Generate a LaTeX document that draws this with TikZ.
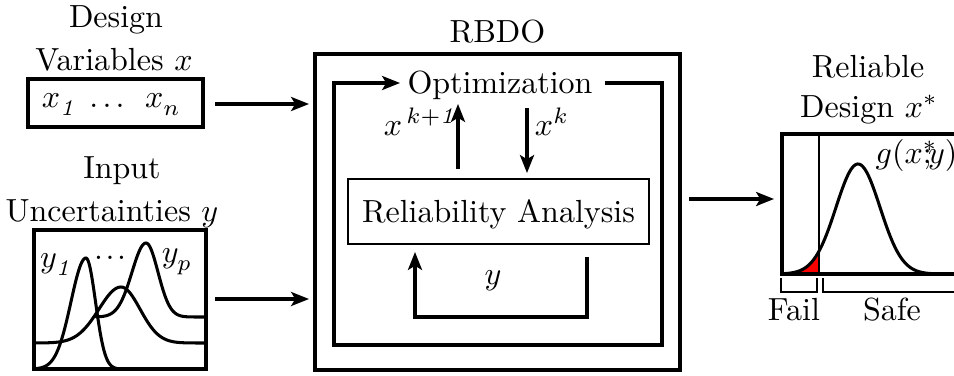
\documentclass[tikz,border=0pt]{standalone}
\usetikzlibrary{arrows.meta}
\newcommand\pxu{0.3125pt}
\tikzset{
  heavy/.style={line width=0.95pt},
  fine/.style={line width=0.4pt},
  thickbox/.style={draw, heavy, inner sep=0pt},
  thinbox/.style={draw, fine, inner sep=0pt},
  conn/.style={heavy, -{Stealth[length=5.6pt,width=4.4pt,inset=1.3pt]}},
  curve/.style={heavy, line join=round, line cap=round},
  lbl/.style={inner sep=0pt, anchor=base},
}
\begin{document}
\begin{tikzpicture}[x=\pxu, y=-\pxu]
\useasboundingbox (0,0) rectangle (954,375);

% ---------- design variables ----------
\node[lbl] (dvT1) at (116,28) {Design};
\node[lbl] (dvT2) at (114,70) {Variables $x$};
\node[thickbox, minimum width=175*\pxu, minimum height=48*\pxu] (dv) at (115.5,103) {};
\node[lbl] (x1) at (60,107) {$x_{\raisebox{-1pt}{$\scriptstyle\mathit{1}$}}$};
\node[lbl] (xd) at (107,107) {\makebox[11pt]{.\hfill.\hfill.}};
\node[lbl] (xn) at (163,107) {$x_{\raisebox{-1pt}{$\scriptstyle n$}}$};

% ---------- input uncertainties ----------
\node[lbl] (unT1) at (122,178) {Input};
\node[lbl] (unT2) at (112,221) {Uncertainties $y$};
\node[thickbox, minimum width=172*\pxu, minimum height=139*\pxu] (un) at (120,299.5) {};
\begin{scope}
  \clip (34,230) rectangle (206,369);
  % narrow density y_1
  \draw[curve] plot[domain=34:86, samples=50] (\x, {369-111*exp(-((\x-86)/15)*((\x-86)/15)/2)})
               -- plot[domain=86:135, samples=50] (\x, {369-111*exp(-((\x-86)/9.5)*((\x-86)/9.5)/2)});
  % wide density
  \draw[curve] plot[domain=34:121, samples=60] (\x, {343-56*exp(-((\x-121)/22)*((\x-121)/22)/2)})
               -- plot[domain=121:207, samples=60] (\x, {343-56*exp(-((\x-121)/19)*((\x-121)/19)/2)});
  % density y_p
  \draw[curve] plot[domain=96:146, samples=50] (\x, {317-74*exp(-((\x-146)/14)*((\x-146)/14)/2)})
               -- plot[domain=146:207, samples=50] (\x, {317-74*exp(-((\x-146)/12)*((\x-146)/12)/2)});
\end{scope}
\node[lbl] (y1) at (57,267) {$y_{\raisebox{-1pt}{$\scriptstyle\mathit{1}$}}$};
\node[lbl] (yd) at (110,259) {\makebox[10pt]{.\hfill.\hfill.}};
\node[lbl] (yp) at (177,262) {$y_{\raisebox{-1pt}{$\scriptstyle p$}}$};

% ---------- RBDO block ----------
\node[lbl] (rbdoT) at (497.5,42) {RBDO};
\node[thickbox, minimum width=365*\pxu, minimum height=316*\pxu] (rbdo) at (497.5,212) {};
\node[lbl, inner sep=2.2pt] (opt) at (500,93) {Optimization};
\node[thinbox, minimum width=301*\pxu, minimum height=65*\pxu] (ra) at (498.5,211.5) {};
\node[lbl] (raT) at (498.5,222) {Reliability Analysis};

% outer loop around the optimizer
\coordinate (loopS) at (605,83);
\coordinate (loopE) at (400,83);
\draw[conn, line join=miter] (loopS) -- (662,83) -- (662,345) -- (334,345) -- (334,83) -- (loopE);

% iterate exchange
\coordinate (upS) at (458,169);
\coordinate (upE) at (458,104);
\coordinate (dnS) at (527,108);
\coordinate (dnE) at (527,173);
\draw[conn] (upS) -- (upE);
\draw[conn] (dnS) -- (dnE);
\node[lbl] (xk1) at (421,135) {$x^{\,k+\mathit{1}}$};
\node[lbl] (xk) at (552,135) {$x^{k}$};

% sampling loop
\coordinate (ylS) at (587,257);
\coordinate (ylE) at (415,252);
\draw[conn, line join=miter] (ylS) -- (587,317) -- (415,317) -- (ylE);
\node[lbl] (yl) at (493,284) {$y$};

% ---------- inputs and output ----------
\coordinate (a1S) at (215,104);
\coordinate (a1E) at (309,104);
\coordinate (a2S) at (215,299);
\coordinate (a2E) at (309,299);
\coordinate (a3S) at (689,199);
\coordinate (a3E) at (774,199);
\draw[conn] (a1S) -- (a1E);
\draw[conn] (a2S) -- (a2E);
\draw[conn] (a3S) -- (a3E);

% ---------- reliable design ----------
\node[lbl] (rdT1) at (868,77) {Reliable};
\node[lbl] (rdT2) at (869,117) {Design $x^{*}$};
% failure probability region
\fill[red] (782,274) -- plot[domain=782:819, samples=30] (\x, {274-110*exp(-((\x-858)/22)*((\x-858)/22)/2)}) -- (819,274) -- cycle;
\draw[fine] (819,134) -- (819,274);
\draw[curve] plot[domain=782:937, samples=120] (\x, {274-110*exp(-((\x-858)/22)*((\x-858)/22)/2)});
\draw[heavy, line join=miter] (970,134) -- (782,134) -- (782,274) -- (970,274);
\node[lbl, anchor=base west] (gT) at (875,163) {$g(x\rlap{$^{*}$}{;}\mkern-2mu y)$};

% fail / safe ranges
\draw[fine] (781,278) -- (781,292) -- (817,292) -- (817,278);
\draw[fine] (823,278) -- (823,292) -- (970,292);
\node[lbl] (fail) at (794,320) {Fail};
\node[lbl] (safe) at (892,320) {Safe};
\end{tikzpicture}
\end{document}
